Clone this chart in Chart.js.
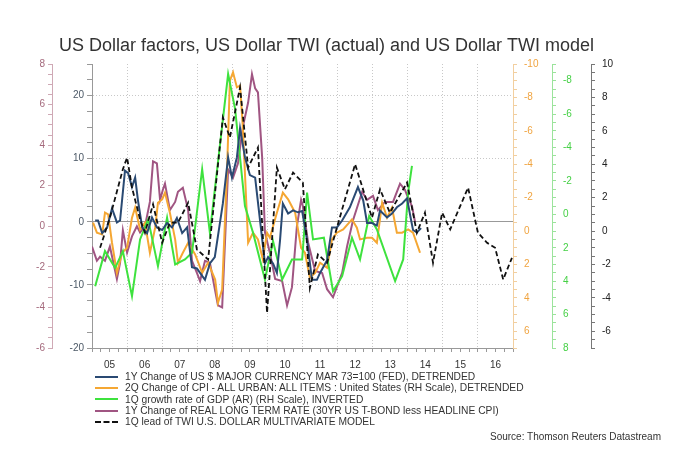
<!DOCTYPE html>
<html>
<head>
<meta charset="utf-8">
<script src="https://cdn.jsdelivr.net/npm/chart.js@4.4.1/dist/chart.umd.min.js"></script>
<style>
  body { margin: 0; background: #fff; font-family: "Liberation Sans", Arial, sans-serif; }
  #wrap { position: relative; width: 685px; height: 460px; }
  #legend { position: absolute; left: 95px; top: 371px; font-size: 10.25px; color: #333; }
  .item { height: 11.3px; line-height: 11.3px; white-space: nowrap; display: flex; align-items: center; }
  .swatch { width: 23px; height: 0; border-top: 2px solid; margin-right: 7px; }
  #source { position: absolute; right: 24px; top: 431px; font-size: 10px; color: #333; }
</style>
</head>
<body>
<div id="wrap">
  <canvas id="chart" width="685" height="460"></canvas>
  <div id="legend"></div>
  <div id="source">Source: Thomson Reuters Datastream</div>
</div>
<script>
// x axis labels (one per year, 2005..2016)
const yearLabels = ['05','06','07','08','09','10','11','12','13','14','15','16'];

// 1Y change of US$ major currency index, detrended (left inner scale)
const usdYears = [
  2005.09, 2005.17, 2005.29, 2005.43, 2005.57, 2005.71, 2005.80, 2005.94, 2006.03, 2006.14,
  2006.23, 2006.31, 2006.43, 2006.57, 2006.71, 2006.85, 2007.00, 2007.14, 2007.28, 2007.42,
  2007.57, 2007.71, 2007.85, 2007.99, 2008.08, 2008.22, 2008.36, 2008.50, 2008.73, 2008.88,
  2008.99, 2009.13, 2009.22, 2009.36, 2009.50, 2009.65, 2009.79, 2009.93, 2010.02, 2010.16,
  2010.27, 2010.36, 2010.44, 2010.59, 2010.73, 2010.87, 2010.99, 2011.13, 2011.27, 2011.41,
  2011.50, 2011.70, 2011.84, 2011.98, 2012.13, 2012.35, 2012.58, 2012.73, 2012.84, 2012.98,
  2013.12, 2013.21, 2013.41, 2013.55, 2013.69, 2013.84, 2013.98, 2014.07, 2014.15, 2014.26, 2014.38
];
const usdValues = [
  0.2, 0.2, -1.8, -0.9, 2.1, -0.1, 0.2, 8.1, 7.7, 5.5,
  7.0, 3.4, -0.9, -1.8, 0.7, -0.9, -1.3, -0.2, -0.9, 0.6,
  -1.8, -0.9, -7.2, -7.4, -8.1, -9.2, -6.6, -5.6, 2.9, 10.2,
  7.0, 10.2, 14.8, 10.2, 7.4, 7.0, 0.2, -6.6, -5.6, -6.6,
  -8.1, -2.9, 2.9, 1.3, 1.8, 1.5, 1.7, -2.9, -9.2, -9.2,
  -8.1, -6.1, -0.9, -0.9, 0.2, 2.3, 5.5, 3.4, -0.2, -0.2,
  -0.6, 1.8, 0.7, 1.3, 2.3, 2.9, 3.7, 1.0, -1.3, -1.7, -1.0
];

// 2Q change of CPI, detrended (orange RH scale, inverted)
const cpiYears = [
  2005.03, 2005.14, 2005.29, 2005.37, 2005.46, 2005.57, 2005.71, 2005.86, 2006.00, 2006.14,
  2006.23, 2006.37, 2006.51, 2006.65, 2006.80, 2006.88, 2007.00, 2007.08, 2007.22, 2007.37,
  2007.45, 2007.59, 2007.74, 2007.94, 2008.14, 2008.31, 2008.51, 2008.59, 2008.71, 2008.85,
  2008.93, 2009.02, 2009.13, 2009.22, 2009.30, 2009.45, 2009.59, 2009.73, 2009.87, 2009.99,
  2010.07, 2010.27, 2010.44, 2010.59, 2010.79, 2010.96, 2011.07, 2011.21, 2011.36, 2011.50,
  2011.70, 2011.84, 2011.98, 2012.16, 2012.41, 2012.55, 2012.64, 2012.84, 2012.98, 2013.12,
  2013.27, 2013.41, 2013.55, 2013.69, 2013.84, 2014.01, 2014.15, 2014.35
];
const cpiValues = [
  -0.5, 0.1, 0.2, -1.1, -1.0, 0.7, 2.5, 1.3, 1.0, -0.8,
  -1.4, -0.1, -0.5, 1.3, -0.2, -1.7, -1.9, -2.3, -1.1, 0.5,
  1.9, 1.3, 0.7, 1.4, 2.5, 1.9, 2.9, 4.3, 3.5, -3.7,
  -9.0, -9.5, -8.6, -8.7, -6.2, 0.7, 0.1, 0.5, 1.7, 0.1,
  0.4, -1.1, -2.3, -1.9, -1.1, 1.0, 1.3, 2.8, 2.5, 1.9,
  2.2, 0.5, 0.1, -0.1, -0.7, -0.2, 0.5, 0.4, 0.4, 0.7,
  -1.7, -0.8, -1.4, 0.1, 0.1, -0.1, 0.1, 1.3
];

// 1Q growth rate of GDP (AR), inverted (green RH scale)
const gdpYears = [
  2005.09, 2005.37, 2005.66, 2005.88, 2006.14, 2006.37, 2006.60, 2006.88, 2007.14, 2007.37,
  2007.65, 2007.85, 2008.14, 2008.36, 2008.88, 2009.08, 2009.36, 2009.59, 2009.93, 2010.16,
  2010.42, 2010.70, 2010.99, 2011.13, 2011.30, 2011.61, 2011.87, 2012.13, 2012.41, 2012.64,
  2012.90, 2013.12, 2013.64, 2013.87, 2014.01, 2014.12
];
const gdpValues = [
  4.3, 2.2, 3.2, 2.2, 4.9, 1.5, 0.3, 3.1, 0.2, 3.0,
  2.7, 2.3, -2.7, 1.1, -8.4, -6.3, -0.5, 1.1, 3.9, 1.6,
  3.9, 2.7, 2.7, -1.3, 1.5, 1.4, 4.6, 3.7, 1.4, 2.7,
  0.1, 0.9, 4.0, 2.7, -1.3, -2.9
];

// 1Y change of real long term rate (left outer scale)
const realYears = [
  2005.00, 2005.14, 2005.23, 2005.37, 2005.51, 2005.71, 2005.80, 2005.88, 2006.00, 2006.14,
  2006.28, 2006.37, 2006.51, 2006.65, 2006.74, 2006.85, 2006.94, 2007.02, 2007.08, 2007.22,
  2007.37, 2007.45, 2007.59, 2007.74, 2007.85, 2007.99, 2008.08, 2008.22, 2008.36, 2008.59,
  2008.71, 2008.88, 2009.02, 2009.16, 2009.30, 2009.45, 2009.56, 2009.65, 2009.73, 2009.85,
  2009.93, 2010.07, 2010.22, 2010.42, 2010.56, 2010.70, 2010.84, 2010.96, 2011.01, 2011.16,
  2011.36, 2011.56, 2011.70, 2011.87, 2012.13, 2012.27, 2012.44, 2012.70, 2012.84, 2013.01,
  2013.15, 2013.35, 2013.58, 2013.78, 2013.92, 2014.01, 2014.12, 2014.21
];
const realValues = [
  -1.0, -1.7, -1.5, -1.7, -1.0, -2.6, -1.8, -0.2, -1.3, -0.5,
  0.0, -0.3, 0.0, 1.2, 3.2, 3.1, 1.3, 1.8, 2.1, 0.8,
  1.2, 1.7, 1.9, 0.8, -1.7, -2.3, -2.7, -1.7, -1.8, -3.9,
  -4.0, 2.8, 2.4, 3.1, 4.9, 6.1, 7.5, 6.8, 6.6, 3.4,
  -0.3, -1.3, -2.6, -2.7, -3.9, -3.0, 0.0, 1.3, 1.0, -0.8,
  -2.2, -2.3, -3.1, -3.5, -2.3, -1.0, 0.3, 1.7, 1.3, 1.5,
  0.8, 1.2, 1.2, 2.1, 1.8, 1.4, 1.0, 0.2
];

// 1Q lead of TWI multivariate model (black RH scale)
const modelYears = [
  2005.23, 2005.51, 2005.88, 2006.00, 2006.14, 2006.37, 2006.51, 2006.74, 2007.00, 2007.22,
  2007.45, 2007.74, 2007.99, 2008.31, 2008.73, 2008.93, 2009.22, 2009.45, 2009.73, 2009.99,
  2010.27, 2010.50, 2010.73, 2011.01, 2011.21, 2011.44, 2011.70, 2011.98, 2012.50, 2012.98,
  2013.21, 2013.49, 2013.98, 2014.26, 2014.49, 2014.72, 2014.98, 2015.21, 2015.72, 2016.00,
  2016.26, 2016.49, 2016.72, 2016.97
];
const modelValues = [
  -1.0, 0.8, 3.7, 4.4, 2.6, 0.7, -0.1, 1.6, -0.7, 0.5,
  0.5, 1.7, -1.1, -1.7, 6.8, 5.6, 8.6, 3.8, 5.0, -4.9,
  3.8, 2.5, 3.5, 2.9, -3.4, -1.4, -1.9, 0.2, 4.0, 0.8,
  2.5, 1.1, 2.9, -0.1, 1.1, -1.9, 1.1, 0.1, 2.6, -0.1,
  -0.7, -1.0, -2.9, -1.6
];

// labelled ticks on each scale
const realTicks = [-6, -4, -2, 0, 2, 4, 6, 8];
const usdTicks = [-20, -10, 0, 10, 20];
const cpiTicks = [-10, -8, -6, -4, -2, 0, 2, 4, 6];
const gdpTicks = [-8, -6, -4, -2, 0, 2, 4, 6, 8];
const modelTicks = [-6, -4, -2, 0, 2, 4, 6, 8, 10];

const seriesNames = [
  '1Y Change of US $ MAJOR CURRENCY MAR 73=100 (FED), DETRENDED',
  '2Q Change of CPI - ALL URBAN: ALL ITEMS : United States (RH Scale), DETRENDED',
  '1Q growth rate of GDP (AR) (RH Scale), INVERTED',
  '1Y Change of REAL LONG TERM RATE (30YR US T-BOND less HEADLINE CPI)',
  '1Q lead of TWI U.S. DOLLAR MULTIVARIATE MODEL'
];
const seriesColors = ['#2a4a73', '#f5a733', '#3ee23e', '#a05582', '#111111'];

function pairs(xs, ys) {
  return xs.map((x, i) => ({ x: x, y: ys[i] }));
}
function has(list, v) {
  return list.some(t => Math.abs(t - v) < 1e-6);
}

const FONT = '"Liberation Sans", Arial, sans-serif';
Chart.defaults.font.family = FONT;
Chart.defaults.font.size = 10;

function yAxis(pos, weight, min, max, step, labels, textColor, lineColor, width, extra) {
  const ax = {
    type: 'linear',
    position: pos,
    weight: weight,
    min: min,
    max: max,
    afterFit: function(scale) { scale.width = width; },
    ticks: {
      stepSize: step,
      autoSkip: false,
      color: textColor,
      padding: pos === 'left' ? 3 : 7,
      callback: function(v) { return has(labels, v) ? String(Math.round(v)) : ''; }
    },
    grid: {
      drawOnChartArea: false,
      tickLength: 4,
      tickColor: lineColor
    },
    border: { color: lineColor }
  };
  return Object.assign(ax, extra || {});
}

const ctx = document.getElementById('chart').getContext('2d');
const chart = new Chart(ctx, {
  type: 'line',
  data: {
    datasets: [
      { label: seriesNames[4], data: pairs(modelYears, modelValues), yAxisID: 'yModel',
        borderColor: seriesColors[4], borderWidth: 1.8, borderDash: [5, 3], order: 0 },
      { label: seriesNames[0], data: pairs(usdYears, usdValues), yAxisID: 'yUsd',
        borderColor: seriesColors[0], borderWidth: 2, order: 1 },
      { label: seriesNames[2], data: pairs(gdpYears, gdpValues), yAxisID: 'yGdp',
        borderColor: seriesColors[2], borderWidth: 2, order: 2 },
      { label: seriesNames[1], data: pairs(cpiYears, cpiValues), yAxisID: 'yCpi',
        borderColor: seriesColors[1], borderWidth: 2, order: 3 },
      { label: seriesNames[3], data: pairs(realYears, realValues), yAxisID: 'yReal',
        borderColor: seriesColors[3], borderWidth: 2, order: 4 }
    ]
  },
  options: {
    responsive: false,
    animation: false,
    devicePixelRatio: 1,
    elements: { point: { radius: 0 }, line: { tension: 0 } },
    layout: { padding: { left: 22, right: 54, top: 0, bottom: 86 } },
    plugins: {
      legend: { display: false },
      tooltip: { enabled: false },
      title: {
        display: true,
        text: 'US Dollar factors, US Dollar TWI (actual) and US Dollar TWI model',
        color: '#333',
        font: { size: 18, weight: 'normal', family: FONT },
        padding: { top: 35, bottom: 7.4 }
      }
    },
    scales: {
      x: {
        type: 'linear',
        min: 2005,
        max: 2017,
        afterFit: function(scale) { scale.height = 26; },
        ticks: {
          stepSize: 0.25,
          autoSkip: false,
          maxRotation: 0,
          color: '#333',
          padding: 7,
          callback: function(v) {
            const i = Math.floor(v) - 2005;
            return (Math.abs(v - Math.floor(v) - 0.5) < 1e-6 && yearLabels[i]) ? yearLabels[i] : '';
          }
        },
        grid: {
          color: c => (c.tick && Number.isInteger(c.tick.value)) ? '#c8c8c8' : 'rgba(0,0,0,0)',
          tickColor: '#999',
          tickLength: 4
        },
        border: { color: '#999', dash: [1, 2] }
      },
      yReal: yAxis('left', 2, -6, 8, 0.5, realTicks, '#a4697c', '#cfa9b5', 30),
      yUsd: yAxis('left', 1, -20, 25, 2.5, usdTicks, '#4b5866', '#999999', 40, {
        grid: {
          drawOnChartArea: true,
          tickLength: 5,
          tickColor: '#999999',
          color: c => {
            if (!c.tick) return 'rgba(0,0,0,0)';
            if (c.tick.value === 0) return '#999999';
            return (c.tick.value === 10 || c.tick.value === 20 || c.tick.value === -10) ? '#c8c8c8' : 'rgba(0,0,0,0)';
          }
        },
        border: { color: '#999999', dash: c => (c.tick && c.tick.value === 0) ? [] : [1, 2] }
      }),
      yCpi: yAxis('right', 1, -10, 7, 0.5, cpiTicks, '#f0a440', '#f2cf9f', 39, { reverse: true }),
      yGdp: yAxis('right', 2, -9, 8, 0.5, gdpTicks, '#45d045', '#9be39b', 39, { reverse: true }),
      yModel: yAxis('right', 3, -7, 10, 0.5, modelTicks, '#222222', '#777777', 40)
    }
  }
});

// legend below the chart, in the order of the original
const legend = document.getElementById('legend');
seriesNames.forEach((name, i) => {
  const row = document.createElement('div');
  row.className = 'item';
  const sw = document.createElement('span');
  sw.className = 'swatch';
  sw.style.borderTopColor = seriesColors[i];
  if (i === 4) sw.style.borderTopStyle = 'dashed';
  row.appendChild(sw);
  row.appendChild(document.createTextNode(name));
  legend.appendChild(row);
});
</script>
</body>
</html>
